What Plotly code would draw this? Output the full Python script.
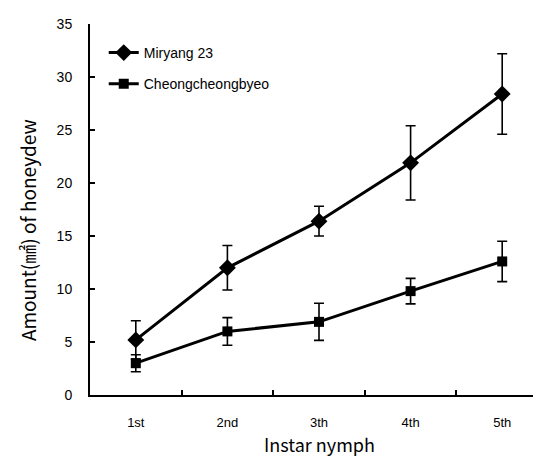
import plotly.graph_objects as go

categories = ["1st", "2nd", "3th", "4th", "5th"]
miryang = [5.2, 12.0, 16.4, 21.9, 28.4]
miryang_err = [1.8, 2.1, 1.4, 3.5, 3.8]
cheong = [3.0, 6.0, 6.9, 9.8, 12.6]
cheong_err = [0.8, 1.3, 1.75, 1.2, 1.9]
y_ticks = [0, 5, 10, 15, 20, 25, 30, 35]

fig = go.Figure()
fig.add_trace(go.Scatter(
    x=categories, y=miryang, name="Miryang 23", mode="lines+markers",
    line=dict(color="black", width=3),
    marker=dict(symbol="diamond", size=13, color="black"),
    error_y=dict(type="data", array=miryang_err, color="black", thickness=1.6, width=5),
    legendgroup="a",
))
fig.add_trace(go.Scatter(
    x=categories, y=cheong, name="Cheongcheongbyeo", mode="lines+markers",
    line=dict(color="black", width=3),
    marker=dict(symbol="square", size=10, color="black"),
    error_y=dict(type="data", array=cheong_err, color="black", thickness=1.6, width=5),
    legendgroup="b",
))

fig.update_layout(
    width=541, height=457,
    margin=dict(l=82, r=1, t=16, b=70),
    plot_bgcolor="white", paper_bgcolor="white",
    font=dict(family="Liberation Sans, Arial, sans-serif", color="black", size=13),
    showlegend=True,
    legend=dict(x=0.03, y=0.965, xanchor="left", yanchor="top",
                font=dict(size=14, family="Liberation Sans, Arial, sans-serif"),
                traceorder="grouped", tracegroupgap=10,
                bgcolor="rgba(0,0,0,0)"),
    xaxis=dict(
        type="category", range=[-0.5, 4.5], tickson="boundaries",
        showline=True, linecolor="black", linewidth=2,
        ticks="inside", ticklen=5, tickwidth=2, tickcolor="black",
        showgrid=False, zeroline=False,
        tickfont=dict(size=13), ticklabelstandoff=14,
    ),
    yaxis=dict(
        range=[0, 35], tickvals=y_ticks,
        showline=True, linecolor="black", linewidth=2,
        ticks="inside", ticklen=5, tickwidth=2, tickcolor="black",
        showgrid=False, zeroline=False,
        tickfont=dict(size=14), ticklabelstandoff=13,
    ),
    annotations=[
        dict(text="Instar nymph", x=0.5, y=-0.132, xref="paper", yref="paper",
             xanchor="center", yanchor="middle", showarrow=False,
             font=dict(size=18, family="Noto Sans CJK KR, sans-serif")),
        dict(text="Amount(㎟) of honeydew", x=-0.135, y=0.445, xref="paper", yref="paper",
             xanchor="center", yanchor="middle", showarrow=False, textangle=-90,
             font=dict(size=19, family="Noto Sans CJK KR, sans-serif")),
    ],
)

fig.write_html("out.html")
